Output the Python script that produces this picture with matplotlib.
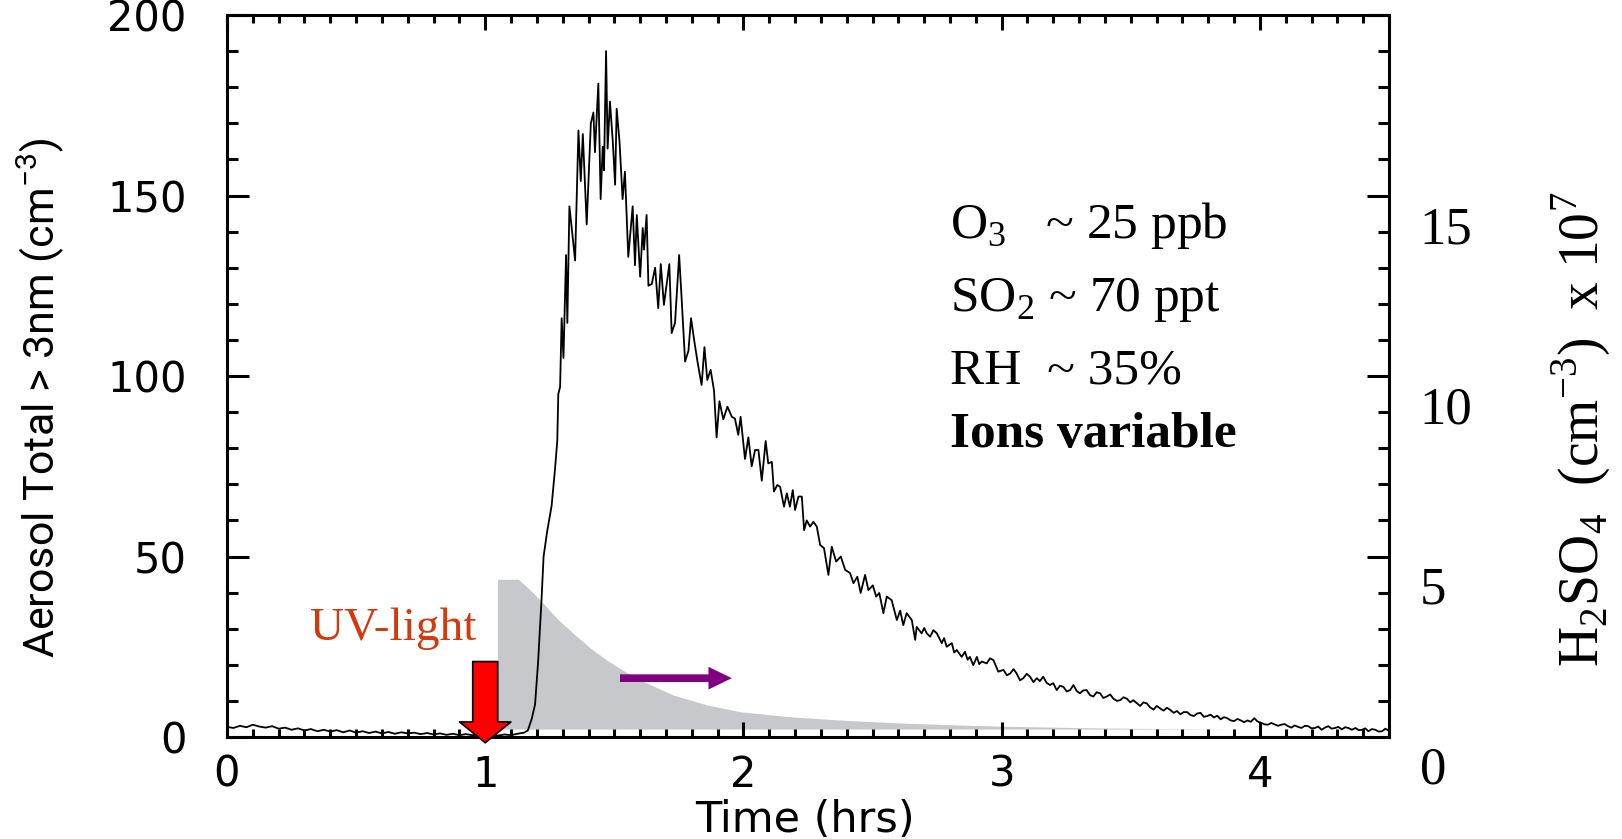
import matplotlib
matplotlib.use("Agg")
import matplotlib.pyplot as plt
from matplotlib.patches import FancyArrowPatch
from matplotlib.ticker import MultipleLocator

# aerosol number (> 3 nm) vs time since start, hours / cm^-3
time_hr = [
    0.000, 0.025, 0.050, 0.075, 0.100, 0.125, 0.150, 0.175, 0.200, 0.225,
    0.250, 0.275, 0.300, 0.325, 0.350, 0.375, 0.400, 0.425, 0.450, 0.475,
    0.500, 0.525, 0.550, 0.575, 0.600, 0.625, 0.650, 0.675, 0.700, 0.725,
    0.750, 0.775, 0.800, 0.825, 0.850, 0.875, 0.900, 0.925, 0.950, 0.975,
    1.000, 1.025, 1.050, 1.075, 1.100, 1.125, 1.150, 1.165, 1.180, 1.193,
    1.205, 1.218, 1.226, 1.240, 1.257, 1.270, 1.279, 1.283, 1.290, 1.296,
    1.303, 1.313, 1.318, 1.326, 1.335, 1.348, 1.361, 1.370, 1.378, 1.393,
    1.409, 1.419, 1.425, 1.438, 1.447, 1.455, 1.460, 1.468, 1.474, 1.483,
    1.494, 1.503, 1.509, 1.520, 1.532, 1.541, 1.554, 1.571, 1.580, 1.587,
    1.600, 1.610, 1.615, 1.625, 1.632, 1.645, 1.658, 1.670, 1.680, 1.692,
    1.713, 1.722, 1.735, 1.751, 1.761, 1.774, 1.787, 1.797, 1.809, 1.822,
    1.838, 1.849, 1.860, 1.873, 1.886, 1.896, 1.907, 1.922, 1.938, 1.955,
    1.967, 1.980, 1.989, 2.006, 2.019, 2.032, 2.045, 2.058, 2.071, 2.086,
    2.096, 2.110, 2.118, 2.131, 2.142, 2.157, 2.168, 2.180, 2.191, 2.200,
    2.213, 2.226, 2.235, 2.245, 2.258, 2.271, 2.284, 2.297, 2.312, 2.329,
    2.342, 2.359, 2.377, 2.394, 2.413, 2.426, 2.441, 2.454, 2.471, 2.484,
    2.501, 2.514, 2.526, 2.542, 2.555, 2.574, 2.594, 2.607, 2.619, 2.632,
    2.652, 2.665, 2.671, 2.690, 2.700, 2.710, 2.723, 2.736, 2.749, 2.768,
    2.777, 2.787, 2.807, 2.816, 2.826, 2.845, 2.858, 2.868, 2.877, 2.890,
    2.904, 2.913, 2.923, 2.942, 2.955, 2.968, 2.987, 3.007, 3.020, 3.033,
    3.046, 3.058, 3.071, 3.084, 3.097, 3.110, 3.123, 3.136, 3.148, 3.161,
    3.174, 3.187, 3.200, 3.213, 3.226, 3.239, 3.252, 3.265, 3.278, 3.290,
    3.303, 3.316, 3.329, 3.342, 3.355, 3.368, 3.381, 3.394, 3.407, 3.420,
    3.433, 3.446, 3.459, 3.472, 3.485, 3.498, 3.510, 3.523, 3.536, 3.549,
    3.562, 3.575, 3.588, 3.601, 3.614, 3.627, 3.640, 3.653, 3.666, 3.679,
    3.692, 3.705, 3.718, 3.731, 3.744, 3.757, 3.770, 3.783, 3.796, 3.809,
    3.822, 3.835, 3.848, 3.861, 3.874, 3.887, 3.900, 3.913, 3.926, 3.939,
    3.952, 3.965, 3.978, 3.991, 4.006, 4.018, 4.031, 4.044, 4.057, 4.070,
    4.083, 4.096, 4.109, 4.122, 4.135, 4.148, 4.161, 4.174, 4.187, 4.200,
    4.213, 4.226, 4.239, 4.252, 4.265, 4.278, 4.291, 4.304, 4.317, 4.330,
    4.343, 4.356, 4.370, 4.383, 4.396, 4.408, 4.420, 4.434, 4.447, 4.460,
    4.473, 4.486, 4.500,
]
aerosol = [
    2.8, 2.5, 3.1, 2.7, 3.4, 2.9, 2.6, 3.0, 2.3, 2.6,
    2.0, 2.4, 1.8, 2.2, 1.6, 2.0, 1.5, 1.9, 1.3, 1.8,
    1.2, 1.6, 1.1, 1.5, 1.0, 1.4, 0.9, 1.3, 1.0, 1.2,
    0.8, 1.1, 0.7, 1.0, 0.6, 0.9, 0.5, 0.8, 0.5, 0.7,
    0.4, 0.6, 0.4, 0.7, 0.5, 0.9, 1.2, 1.8, 5.0, 9.0,
    21, 38, 50, 57, 64, 74, 82, 95, 97, 116,
    105, 133.5, 114.7, 147, 141, 132, 168, 154, 167, 142,
    170, 173, 162, 181, 149, 163.5, 157, 190, 163, 176,
    165, 153, 174, 165, 149, 156.6, 133, 147, 130.7, 144.6,
    127.5, 141, 135, 144.6, 125, 125.5, 130, 118.8, 131, 119.7,
    131, 111.9, 114.7, 133.5, 121, 104, 107, 116, 110, 104,
    97.5, 108, 98.9, 101.7, 96, 83, 93, 88, 91.5, 88.7,
    88.2, 83.7, 88.7, 77, 83, 75, 79.5, 79.5, 71, 82,
    75.8, 76.2, 68, 69.8, 69.3, 63.8, 67.5, 63.8, 68.4, 62.9,
    66.6, 66.6, 57.3, 60, 58.3, 59.6, 58.3, 53.2, 52.3, 44.9,
    52.7, 48.6, 50, 46.3, 45.4, 42.6, 44.4, 39.9, 44.9, 40.7,
    42, 38.9, 39.9, 34.3, 38.9, 37.9, 32.4, 35, 31, 34.3,
    32.4, 26.9, 30.5, 28.7, 30.2, 28.7, 27.8, 29.6, 28.7, 26,
    27.4, 25, 26, 23.4, 24.1, 22.2, 23.6, 21.4, 22.2, 19.9,
    22.2, 20.2, 20.9, 20.4, 21.8, 21.3, 18.1, 18.6, 17.1, 17.6,
    18.8, 17.6, 15.7, 16.3, 17.5, 16.7, 15.2, 16.3, 15.5, 16.7,
    15.0, 14.4, 14.9, 13.0, 14.2, 13.9, 12.6, 13.0, 14.4, 12.8,
    12.1, 12.9, 13.0, 11.6, 11.2, 12.4, 12.1, 10.8, 11.2, 11.8,
    10.6, 10.0, 10.2, 11.0, 10.6, 9.6, 10.2, 9.4, 8.6, 9.6,
    9.3, 8.2, 7.6, 8.6, 7.9, 7.3, 8.1, 7.5, 6.7, 7.2,
    6.3, 6.9, 6.9, 6.1, 5.8, 6.5, 6.7, 5.6, 5.8, 6.2,
    5.4, 5.9, 4.9, 5.5, 5.2, 4.6, 4.4, 5.0, 4.6, 4.1,
    4.6, 4.2, 5.2, 4.3, 3.9, 3.5, 3.4, 3.9, 3.5, 3.1,
    3.4, 3.6, 3.0, 2.6, 3.2, 2.8, 2.5, 3.1, 3.0, 2.4,
    2.5, 2.9, 2.0, 2.6, 3.0, 2.3, 2.5, 2.8, 2.1, 2.7,
    2.5, 2.0, 2.5, 1.9, 2.0, 2.4, 1.6, 2.2, 2.0, 1.5,
    1.6, 2.3, 1.7,
]

# H2SO4 production envelope, drawn on the aerosol scale
shade_hr = [1.047, 1.128, 1.161, 1.187, 1.212, 1.277, 1.341, 1.406, 1.471,
            1.535, 1.600, 1.729, 1.858, 1.987, 2.180, 2.400, 2.600, 2.800,
            3.000, 3.300, 3.600, 3.900]
shade_top = [43.7, 43.7, 41.6, 39.8, 38.0, 32.9, 28.7, 24.7, 21.3,
             18.4, 15.8, 11.6, 8.9, 7.0, 5.6, 4.6, 3.9, 3.4,
             3.0, 2.6, 2.35, 2.2]
shade_floor = 2.2

h2so4_ticks = [0, 5, 10, 15]

conditions = [
    (r"O$_\mathregular{3}$   ~ 25 ppb", "normal"),
    (r"SO$_\mathregular{2}$ ~ 70 ppt", "normal"),
    ("RH  ~ 35%", "normal"),
    ("Ions variable", "bold"),
]
condition_y = [0.7163, 0.6293, 0.5435, 0.4672]

uv_on_hr = 1.0

SERIF = "Liberation Serif"
LABEL = ["Roboto", "DejaVu Sans"]

fig = plt.figure(figsize=(16.22, 8.39), dpi=100)
ax = fig.add_axes([0.13995, 0.12157, 0.7164, 0.86055])

ax.fill_between(shade_hr, shade_floor, shade_top, color="#c7c8cb", lw=0, zorder=1)
ax.plot(time_hr, aerosol, color="black", lw=1.3, zorder=3)

ax.set_xlim(0, 4.5)
ax.set_ylim(0, 200)
ax.set_xticks([0, 1, 2, 3, 4])
ax.set_yticks([0, 50, 100, 150, 200])
ax.xaxis.set_minor_locator(MultipleLocator(0.1))
ax.yaxis.set_minor_locator(MultipleLocator(10))
ax.tick_params(which="both", direction="in", top=True, right=True,
               width=2.2, colors="black")
ax.tick_params(axis="x", which="major", length=11, labelsize=30, pad=12)
ax.tick_params(axis="x", which="minor", length=5.5)
ax.tick_params(axis="y", which="major", length=16, labelsize=30, pad=29)
ax.tick_params(axis="y", which="minor", length=8)
for sp in ax.spines.values():
    sp.set_linewidth(2.2)

ax.set_xlabel("Time (hrs)", fontsize=31, family="DejaVu Sans")
ax.xaxis.label.set_va("baseline")
ax.xaxis.set_label_coords(0.497, -0.131)
ax.set_ylabel(r"Aerosol Total > 3nm (cm$^{\mathregular{-3}}$)",
              fontsize=31, family=LABEL)
ax.yaxis.label.set_va("center")
ax.yaxis.set_label_coords(-0.160, 0.470)

# UV lamp switched on
ax.add_patch(FancyArrowPatch(
    (uv_on_hr, 20.9), (uv_on_hr, -1.6),
    arrowstyle="simple,head_length=15,head_width=37,tail_width=18",
    mutation_scale=1, fc="#ff0000", ec="black", lw=1.2,
    shrinkA=0, shrinkB=0, clip_on=False, zorder=6))
fig.text(0.2935, 0.2372, "UV-light", ha="right", va="baseline",
         fontsize=34, family=SERIF, color="#d4380d")

# purple arrow pointing along the decay
ax.add_patch(FancyArrowPatch(
    (1.522, 16.3), (1.955, 16.3),
    arrowstyle="simple,head_length=16.8,head_width=16.3,tail_width=5.5",
    mutation_scale=1, fc="#800080", ec="none",
    shrinkA=0, shrinkB=0, zorder=4))

for (txt, weight), y in zip(conditions, condition_y):
    fig.text(0.586, y, txt, ha="left", va="baseline", fontsize=37,
             family=SERIF, fontweight=weight)

# H2SO4 scale on the right
axr = fig.add_axes([0.13995, 0.0882, 0.7164, 0.6436])
axr.patch.set_visible(False)
for sp in axr.spines.values():
    sp.set_visible(False)
axr.set_xticks([])
axr.set_ylim(0, 15)
axr.yaxis.tick_right()
axr.set_yticks(h2so4_ticks)
axr.set_yticklabels([str(t) for t in h2so4_ticks], family=SERIF)
axr.tick_params(axis="y", length=0, pad=22, labelsize=38)
axr.yaxis.set_label_position("right")
axr.set_ylabel(r"H$_\mathregular{2}$SO$_\mathregular{4}$  "
               r"(cm$^{\mathregular{-3}}$)  x 10$^\mathregular{7}$",
               fontsize=40, family=SERIF)
axr.yaxis.label.set_va("center")
axr.yaxis.set_label_coords(1.166, 0.622)

fig.savefig("out.png", dpi=100)
